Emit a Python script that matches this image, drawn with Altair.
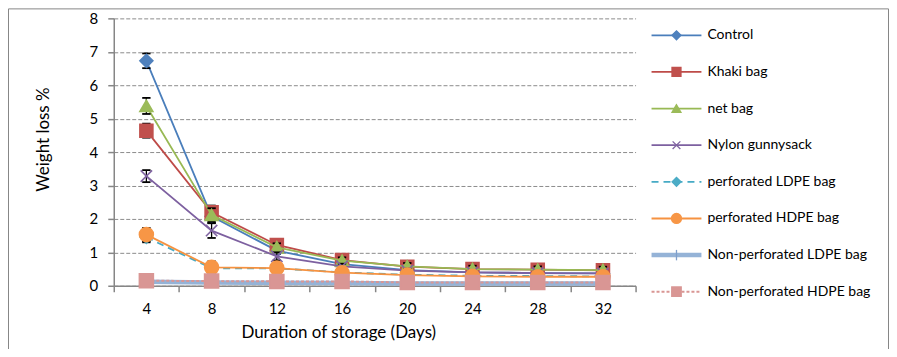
import altair as alt
import pandas as pd

# ---------------- data ----------------
days = [4, 8, 12, 16, 20, 24, 28, 32]
series = ["Control", "Khaki bag", "net bag", "Nylon gunnysack",
          "perforated LDPE bag", "perforated HDPE bag",
          "Non-perforated LDPE bag", "Non-perforated HDPE bag"]

control = [6.73, 2.08, 1.05, 0.65, 0.47, 0.40, 0.38, 0.37]
khaki = [4.64, 2.20, 1.22, 0.77, 0.57, 0.50, 0.48, 0.46]
net = [5.38, 2.12, 1.15, 0.75, 0.58, 0.50, 0.48, 0.47]
nylon = [3.28, 1.65, 0.88, 0.58, 0.45, 0.40, 0.38, 0.37]
perf_ldpe = [1.45, 0.52, 0.52, 0.40, 0.33, 0.30, 0.29, 0.28]
perf_hdpe = [1.53, 0.55, 0.53, 0.39, 0.32, 0.28, 0.27, 0.27]
np_ldpe = [0.12, 0.10, 0.09, 0.08, 0.07, 0.07, 0.07, 0.07]
np_hdpe = [0.15, 0.14, 0.13, 0.13, 0.10, 0.10, 0.10, 0.10]

control_err = [0.22, 0.20, 0.10, 0.08, 0.06, 0.05, 0.05, 0.05]
khaki_err = [0.21, 0.20, 0.14, 0.12, 0.15, 0.14, 0.12, 0.12]
net_err = [0.24, 0.20, 0.12, 0.10, 0.10, 0.10, 0.10, 0.10]
nylon_err = [0.18, 0.22, 0.12, 0.08, 0.06, 0.05, 0.05, 0.05]
perf_ldpe_err = [0.15, 0.10, 0.08, 0.06, 0.05, 0.05, 0.05, 0.05]
perf_hdpe_err = [0.20, 0.18, 0.10, 0.08, 0.06, 0.05, 0.05, 0.05]
np_ldpe_err = [0.05, 0.05, 0.05, 0.05, 0.05, 0.05, 0.05, 0.05]
np_hdpe_err = [0.12, 0.06, 0.05, 0.05, 0.05, 0.05, 0.05, 0.05]

y_ticks = [0, 1, 2, 3, 4, 5, 6, 7, 8]

values = [control, khaki, net, nylon, perf_ldpe, perf_hdpe, np_ldpe, np_hdpe]
errors = [control_err, khaki_err, net_err, nylon_err, perf_ldpe_err,
          perf_hdpe_err, np_ldpe_err, np_hdpe_err]

rows = []
for s, vals, errs in zip(series, values, errors):
    for d, v, e in zip(days, vals, errs):
        rows.append({"series": s, "day": d, "loss": v, "lo": v - e, "hi": v + e})
df = pd.DataFrame(rows)
legend_df = pd.DataFrame({"series": series})

# ---------------- styles ----------------
colors = ["#4A7EBB", "#BE4B48", "#98B954", "#7D60A0",
          "#46AAC5", "#F69240", "#95B3D7", "#D99694"]
marker_colors = ["#4F81BD", "#C0504D", "#9BBB59", "#8064A2",
                 "#4BACC6", "#F79646", "#7F9FCB", "#D99694"]
dashes = [None, None, None, None, [7, 5], None, None, [3, 2]]
widths = [1.8, 1.8, 1.8, 1.8, 1.8, 1.8, 4.5, 2]
shapes = ["diamond", "square", "triangle-up", "M-1,-1L1,1M-1,1L1,-1",
          "diamond", "circle", "M0,-1L0,1", "square"]
plot_sizes = [169, 169, 169, 130, 150, 196, 100, 196]
legend_sizes = [81, 81, 81, 60, 81, 100, 110, 90]

FONT = "Lato"
W, H = 523, 268
x_bounds = [d - 2 for d in days] + [days[-1] + 2]
half_band = W / (x_bounds[-1] - x_bounds[0]) * 2

x_scale = alt.Scale(domain=[x_bounds[0], x_bounds[-1]], nice=False, zero=False)
x_axis = alt.Axis(
    values=x_bounds,
    labelExpr=f"datum.value < {days[-1] + 1} ? format(datum.value + 2, 'd') : ''",
    labelOffset=half_band,
    title="Duration of storage (Days)",
    titleX=225,
    grid=False,
    labelOverlap=False,
    labelBound=False,
    labelFlush=False,
)
y_scale = alt.Scale(domain=[0, 8], nice=False)
y_axis = alt.Axis(values=y_ticks, title="Weight loss %", grid=True, format="d",
                  tickCount=9, labelOverlap=False,
                  titleX=-70, titleY=121, titleAngle=270,
                  titleAlign="center", titleBaseline="middle")


def X(field):
    return alt.X(field, scale=x_scale, axis=x_axis)


def Y(field):
    return alt.Y(field, scale=y_scale, axis=y_axis)


base = alt.Chart(df)
leg_base = alt.Chart(legend_df)
leg_y = alt.Y("series:N", scale=alt.Scale(type="point", domain=series,
                                           range=[17, 274], padding=0), axis=None)

plot_layers = []
legend_layers = []
for i, s in enumerate(series):
    sel = alt.datum.series == s
    dash_kw = {"strokeDash": dashes[i]} if dashes[i] else {}
    line = base.transform_filter(sel).mark_line(
        color=colors[i], strokeWidth=widths[i], **dash_kw
    ).encode(x=X("day:Q"), y=Y("loss:Q"))
    err = base.transform_filter(sel).mark_rule(color="black", strokeWidth=1.3).encode(
        x=X("day:Q"), y=Y("lo:Q"), y2="hi:Q")
    cap_hi = base.transform_filter(sel).mark_point(
        shape="stroke", size=70, color="black", strokeWidth=1.8, opacity=1
    ).encode(x=X("day:Q"), y=Y("hi:Q"))
    cap_lo = base.transform_filter(sel).mark_point(
        shape="stroke", size=70, color="black", strokeWidth=1.8, opacity=1
    ).encode(x=X("day:Q"), y=Y("lo:Q"))
    pts = base.transform_filter(sel).mark_point(
        shape=shapes[i], size=plot_sizes[i], filled=True, opacity=1,
        fill=marker_colors[i], stroke=marker_colors[i], strokeWidth=1.6
    ).encode(x=X("day:Q"), y=Y("loss:Q"))
    plot_layers += [line, err, cap_hi, cap_lo, pts]

    lrule = leg_base.transform_filter(sel).mark_rule(
        color=colors[i], strokeWidth=widths[i], **dash_kw
    ).encode(x=alt.value(539), x2=alt.value(589), y=leg_y)
    lpt = leg_base.transform_filter(sel).mark_point(
        shape=shapes[i], size=legend_sizes[i], filled=True, opacity=1,
        fill=marker_colors[i], stroke=marker_colors[i], strokeWidth=1.3
    ).encode(x=alt.value(564), y=leg_y)
    ltxt = leg_base.transform_filter(sel).mark_text(
        align="left", baseline="middle", font=FONT, fontSize=14, color="black"
    ).encode(x=alt.value(595), y=leg_y, text="series:N")
    legend_layers += [lrule, lpt, ltxt]

# frame of the chart area
frame = alt.Chart(legend_df.head(1)).mark_rect(
    fill=None, stroke="#868686", strokeWidth=1
).encode(
    x=alt.value(-105.5), x2=alt.value(776.5), y=alt.value(-9.5), y2=alt.value(345)
)

plot = alt.layer(*plot_layers)
legend = alt.layer(*legend_layers)

chart = alt.layer(frame, plot, legend).resolve_scale(
    y="independent"
).properties(
    width=W,
    height=H,
    autosize=alt.AutoSizeParams(type="none"),
    padding={"left": 106, "top": 10, "right": 254, "bottom": 63},
).configure_view(stroke=None).configure_axis(
    labelFont=FONT, titleFont=FONT, labelFontSize=15, titleFontSize=17,
    labelColor="black", titleColor="black", titleFontWeight="normal",
    domainColor="#868686", domainWidth=1.5, tickColor="#868686", tickWidth=1.5,
    tickSize=6, gridColor="#8C8C8C", gridDash=[4, 2], gridWidth=1,
).configure_axisY(
    labelPadding=10,
).configure_axisX(
    labelPadding=10, titlePadding=8,
)

chart.save("out.html", embed_options={"renderer": "svg", "actions": False})
